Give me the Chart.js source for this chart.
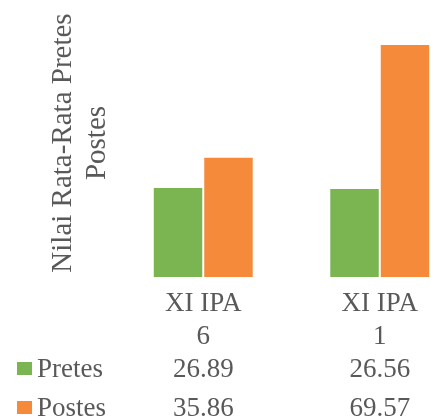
<!DOCTYPE html>
<html>
<head>
<meta charset="utf-8">
<script src="https://cdn.jsdelivr.net/npm/chart.js@4/dist/chart.umd.min.js"></script>
<style>
  html, body { margin: 0; padding: 0; background: #ffffff; overflow: hidden; }
  #wrap { width: 431px; height: 419px; overflow: hidden; }
  canvas { display: block; }
</style>
</head>
<body>
<div id="wrap"><canvas id="chart" width="480" height="419"></canvas></div>
<script>
// Class groups, each label split over two lines
const categories = [["XI IPA", "6"], ["XI IPA", "1"]];
// Average scores per class
const seriesNames = ["Pretes", "Postes"];
const pretes = [26.89, 26.56];
const postes = [35.86, 69.57];
const axisTitle = ["Nilai Rata-Rata Pretes", "Postes"];

const TEXT = "#595959";
const SERIF = "\"Liberation Serif\", \"Times New Roman\", serif";
const colors = ["#7ab551", "#f68a3b"];

// Table of values under the plot, one row per series with a colour key
const dataTable = {
  id: "dataTable",
  afterDraw(chart) {
    const ctx = chart.ctx;
    const x = chart.scales.x;
    const rowsY = [377, 416];
    ctx.save();
    ctx.font = "27px " + SERIF;
    ctx.textBaseline = "alphabetic";
    chart.data.datasets.forEach((ds, i) => {
      const y = rowsY[i];
      ctx.fillStyle = ds.backgroundColor;
      ctx.fillRect(17, y - 15, 15, 13);
      ctx.fillStyle = TEXT;
      ctx.textAlign = "left";
      ctx.fillText(ds.label, 37, y);
      ctx.textAlign = "center";
      ds.data.forEach((v, j) => {
        ctx.fillText(v.toFixed(2), x.getPixelForValue(j), y);
      });
    });
    ctx.restore();
  }
};

function build() {
  new Chart(document.getElementById("chart"), {
    type: "bar",
    data: {
      labels: categories,
      datasets: [
        { label: seriesNames[0], data: pretes, backgroundColor: colors[0] },
        { label: seriesNames[1], data: postes, backgroundColor: colors[1] }
      ]
    },
    options: {
      responsive: false,
      animation: false,
      devicePixelRatio: 1,
      layout: { padding: { top: 9, right: 12, bottom: 0, left: 0 } },
      datasets: {
        bar: {
          categoryPercentage: 0.572,
          barPercentage: 1.0,
          borderWidth: 1,
          borderColor: "rgba(255,255,255,0.55)"
        }
      },
      plugins: {
        legend: { display: false },
        tooltip: { enabled: false }
      },
      scales: {
        x: {
          grid: { display: false, drawTicks: false },
          border: { display: false },
          ticks: {
            color: TEXT,
            font: { family: SERIF, size: 27, lineHeight: 1.2 },
            padding: 11,
            maxRotation: 0,
            autoSkip: false
          },
          afterFit(scale) { scale.height = 142; }
        },
        y: {
          min: 0,
          max: 80,
          grid: { display: false, drawTicks: false },
          border: { display: false },
          ticks: { display: false },
          title: {
            display: true,
            text: axisTitle,
            color: TEXT,
            font: { family: SERIF, size: 29, lineHeight: 1.17 },
            padding: { top: 46, bottom: 0 }
          },
          afterFit(scale) { scale.width = 115; }
        }
      }
    },
    plugins: [dataTable]
  });
}

if (document.fonts && document.fonts.load) {
  document.fonts.load("27px \"Liberation Serif\"").then(build, build);
} else {
  build();
}
</script>
</body>
</html>
